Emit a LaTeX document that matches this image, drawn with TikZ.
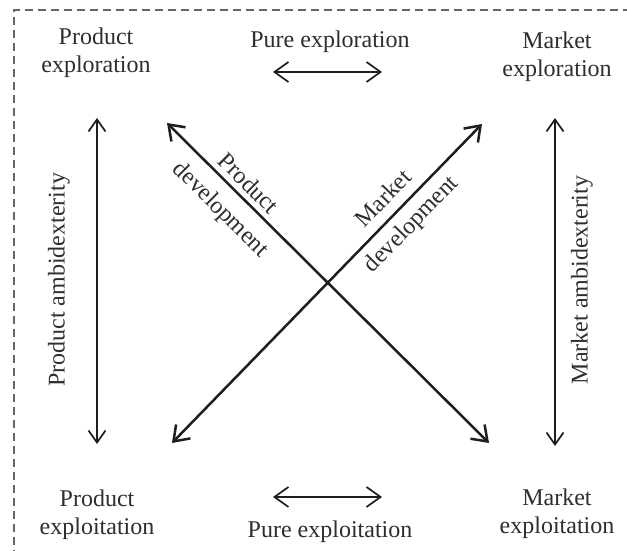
\documentclass[tikz,border=0pt]{standalone}
\usepackage{fontspec}
\setmainfont{Liberation Serif}
\usetikzlibrary{arrows.meta}
\definecolor{txt}{HTML}{2E2E2E}
\definecolor{ln}{HTML}{1E1E1E}
\tikzset{
  lbl/.style={font=\fontsize{24}{28}\selectfont, text=txt, align=center, inner sep=0pt},
  vertarrow/.style={draw=ln, line width=1.7pt, {Straight Barb[length=12pt,width=17pt]}-{Straight Barb[length=12pt,width=17pt]}},
  horarrow/.style={draw=ln, line width=1.7pt, {Straight Barb[length=14pt,width=20pt]}-{Straight Barb[length=14pt,width=20pt]}},
  thickarrow/.style={draw=ln, line width=2.5pt, {Straight Barb[length=14pt,width=20pt]}-{Straight Barb[length=14pt,width=20pt]}},
  border/.style={draw=black!60, line width=1.4pt, dash pattern=on 8pt off 5pt}
}
\begin{document}
\begin{tikzpicture}[x=1pt,y=1pt]
\useasboundingbox (0,0) rectangle (627,551);
\fill[white] (0,0) rectangle (627,551);
\begin{scope}
\clip (0,0) rectangle (627,551);
\draw[border] (14,-20) rectangle (660,541);
\end{scope}
% corner labels
\node[lbl] (pexplor) at (96,498) {Product\\exploration};
\node[lbl] (mexplor) at (557,494) {Market\\exploration};
\node[lbl] (pexploit) at (97,36) {Product\\exploitation};
\node[lbl] (mexploit) at (557,37) {Market\\exploitation};
\node[lbl] (pureexplor) at (330,509.5) {Pure exploration};
\node[lbl] (pureexploit) at (330,19) {Pure exploitation};
\node[lbl, rotate=90] (pamb) at (59,271) {Product ambidexterity};
\node[lbl, rotate=90] (mamb) at (582,271) {Market ambidexterity};
% arrow ends
\coordinate (lvt) at (97,433);
\coordinate (lvb) at (97,107);
\coordinate (rvt) at (555,433);
\coordinate (rvb) at (555,105);
\coordinate (tha) at (273,479);
\coordinate (thb) at (382,479);
\coordinate (bha) at (273,54);
\coordinate (bhb) at (382,54);
\coordinate (pda) at (167,428);
\coordinate (pdb) at (489,108);
\coordinate (mda) at (172,108);
\coordinate (mdb) at (482,427);
% arrows
\draw[vertarrow] (lvt) -- (lvb);
\draw[vertarrow] (rvt) -- (rvb);
\draw[horarrow] (tha) -- (thb);
\draw[horarrow] (bha) -- (bhb);
\draw[thickarrow] (pda) -- (pdb);
\draw[thickarrow] (mda) -- (mdb);
% diagonal labels
\node[lbl, rotate=-44.8] (pd1) at (249,368) {Product};
\node[lbl, rotate=-44.8] (pd2) at (220,341) {development};
\node[lbl, rotate=45.8] (md1) at (383,353) {Market};
\node[lbl, rotate=45.8] (md2) at (412,326) {development};
\end{tikzpicture}
\end{document}
